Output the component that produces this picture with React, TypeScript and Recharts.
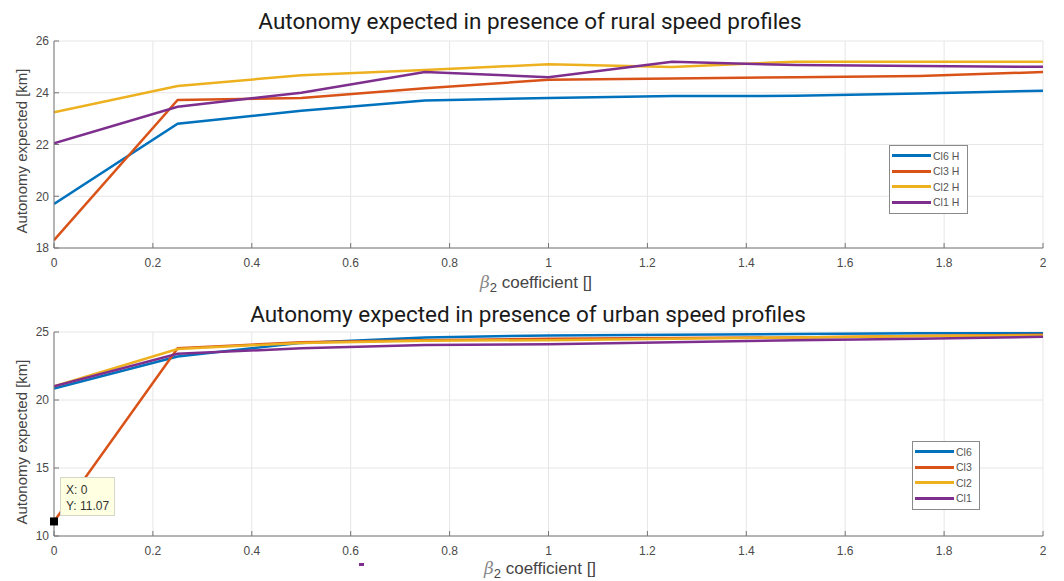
import { LineChart, Line, XAxis, YAxis, CartesianGrid, ReferenceDot } from "recharts"

// beta_2 coefficient sampled every 0.25
const betaValues = [0, 0.25, 0.5, 0.75, 1, 1.25, 1.5, 1.75, 2]

// rural speed profiles
const ruralCl6H = [19.7, 22.8, 23.3, 23.7, 23.8, 23.87, 23.88, 23.97, 24.08]
const ruralCl3H = [18.3, 23.72, 23.8, 24.17, 24.5, 24.55, 24.6, 24.65, 24.8]
const ruralCl2H = [23.25, 24.26, 24.68, 24.88, 25.1, 25.0, 25.2, 25.2, 25.2]
const ruralCl1H = [22.05, 23.46, 24.0, 24.8, 24.6, 25.2, 25.07, 25.03, 25.0]

// urban speed profiles
const urbanCl6 = [20.85, 23.2, 24.2, 24.6, 24.75, 24.8, 24.85, 24.9, 24.95]
const urbanCl3 = [11.07, 23.8, 24.25, 24.4, 24.5, 24.55, 24.6, 24.7, 24.8]
const urbanCl2 = [21.0, 23.75, 24.2, 24.35, 24.4, 24.5, 24.6, 24.7, 24.75]
const urbanCl1 = [21.0, 23.4, 23.8, 24.05, 24.1, 24.25, 24.4, 24.5, 24.65]

const xTicks = [0, 0.2, 0.4, 0.6, 0.8, 1, 1.2, 1.4, 1.6, 1.8, 2]
const ruralTicks = [18, 20, 22, 24, 26]
const urbanTicks = [10, 15, 20, 25]

const BLUE = "#0072BD"
const ORANGE = "#D95319"
const YELLOW = "#EDB120"
const PURPLE = "#7E2F8E"

const ruralSeries = [
  { key: "cl6", name: "Cl6 H", color: BLUE, values: ruralCl6H },
  { key: "cl3", name: "Cl3 H", color: ORANGE, values: ruralCl3H },
  { key: "cl2", name: "Cl2 H", color: YELLOW, values: ruralCl2H },
  { key: "cl1", name: "Cl1 H", color: PURPLE, values: ruralCl1H },
]

const urbanSeries = [
  { key: "cl6", name: "Cl6", color: BLUE, values: urbanCl6 },
  { key: "cl3", name: "Cl3", color: ORANGE, values: urbanCl3 },
  { key: "cl2", name: "Cl2", color: YELLOW, values: urbanCl2 },
  { key: "cl1", name: "Cl1", color: PURPLE, values: urbanCl1 },
]

const toRows = (series: typeof ruralSeries) =>
  betaValues.map((beta, i) => {
    const row: any = { beta }
    series.forEach((s) => (row[s.key] = s.values[i]))
    return row
  })

const AXIS = "#767676"
const TICK_FONT = { fontSize: 12, fill: "#4a4a4a", fontFamily: "Liberation Sans, Arial" }
const fmt = (v: number) => String(Number(v.toFixed(1)))

function Panel({ series, domain, ticks, margin, height, dataTip }: any) {
  return (
    <LineChart width={1064} height={height} data={toRows(series)} margin={margin}>
      <CartesianGrid stroke="#e6e6e6" horizontalValues={ticks} verticalValues={xTicks} />
      <XAxis
        dataKey="beta"
        type="number"
        domain={[0, 2]}
        ticks={xTicks}
        interval={0}
        allowDataOverflow
        height={30}
        tickSize={-5}
        tickMargin={15}
        tickFormatter={fmt}
        stroke={AXIS}
        tick={TICK_FONT}
      />
      <XAxis
        xAxisId="t"
        orientation="top"
        type="number"
        domain={[0, 2]}
        ticks={xTicks}
        allowDataOverflow
        height={0}
        tickSize={-5}
        tick={false}
        stroke={AXIS}
      />
      <YAxis
        type="number"
        domain={domain}
        ticks={ticks}
        interval={0}
        allowDataOverflow
        width={54}
        tickSize={-5}
        tickMargin={10}
        stroke={AXIS}
        tick={TICK_FONT}
      />
      <YAxis
        yAxisId="r"
        orientation="right"
        type="number"
        domain={domain}
        ticks={ticks}
        allowDataOverflow
        width={0}
        tickSize={-5}
        tick={false}
        stroke={AXIS}
      />
      {series.map((s: any) => (
        <Line
          key={s.key}
          dataKey={s.key}
          name={s.name}
          type="linear"
          stroke={s.color}
          strokeWidth={2.5}
          dot={false}
          isAnimationActive={false}
        />
      ))}
      {dataTip && (
        <ReferenceDot
          x={dataTip.x}
          y={dataTip.y}
          shape={(p: any) => <rect x={p.cx - 4} y={p.cy - 4} width={8} height={8} fill="#000" />}
        />
      )}
    </LineChart>
  )
}

function Legend({ series, left, top, width }: any) {
  return (
    <div
      style={{
        position: "absolute",
        left,
        top,
        width,
        background: "#fff",
        border: "1px solid #8a8a8a",
        padding: "2px 0 3px 2px",
      }}
    >
      {series.map((s: any) => (
        <div key={s.key} style={{ display: "flex", alignItems: "center", height: 15.5 }}>
          <div style={{ width: 39, height: 3, background: s.color }} />
          <span
            style={{
              marginLeft: 2,
              fontSize: 10.5,
              color: "#555",
              fontFamily: "Liberation Sans, Arial",
              whiteSpace: "nowrap",
            }}
          >
            {s.name}
          </span>
        </div>
      ))}
    </div>
  )
}

const titleStyle: any = {
  position: "absolute",
  transform: "translateX(-50%)",
  fontFamily: "Roboto, 'Open Sans', sans-serif",
  fontSize: 22.5,
  fontWeight: 400,
  lineHeight: "26px",
  color: "#1a1a1a",
  whiteSpace: "nowrap",
}

const xLabelStyle: any = {
  position: "absolute",
  transform: "translateX(-50%)",
  fontFamily: "Liberation Sans, Arial",
  fontSize: 17,
  lineHeight: "20px",
  color: "#454545",
  whiteSpace: "nowrap",
}

const yLabelStyle: any = {
  position: "absolute",
  transform: "translate(-50%, -50%) rotate(-90deg)",
  fontFamily: "Liberation Sans, Arial",
  fontSize: 15,
  lineHeight: "18px",
  color: "#454545",
  whiteSpace: "nowrap",
}

function XLabel({ left, top }: any) {
  return (
    <div style={{ ...xLabelStyle, left, top }}>
      <span style={{ fontFamily: "DejaVu Serif, serif", fontStyle: "italic", color: "#888" }}>β</span>
      <sub style={{ fontSize: 13 }}>2</sub> coefficient []
    </div>
  )
}

export default function App() {
  return (
    <div
      style={{
        position: "absolute",
        left: 0,
        top: 0,
        width: 1064,
        height: 581,
        background: "#fff",
        overflow: "hidden",
      }}
    >
      <div style={{ position: "absolute", left: 0, top: 0 }}>
        <Panel
          series={ruralSeries}
          domain={[18, 26]}
          ticks={ruralTicks}
          height={290}
          margin={{ top: 41, right: 21, bottom: 12, left: 0 }}
        />
      </div>
      <div style={{ position: "absolute", left: 0, top: 290 }}>
        <Panel
          series={urbanSeries}
          domain={[10, 25]}
          ticks={urbanTicks}
          height={291}
          margin={{ top: 42, right: 21, bottom: 15, left: 0 }}
          dataTip={{ x: 0, y: 11.07 }}
        />
      </div>

      <div style={{ ...titleStyle, left: 530, top: 8 }}>
        Autonomy expected in presence of rural speed profiles
      </div>
      <div style={{ ...titleStyle, left: 528, top: 301 }}>
        Autonomy expected in presence of urban speed profiles
      </div>

      <XLabel left={536} top={272} />
      <XLabel left={540} top={558} />

      <div style={{ ...yLabelStyle, left: 22, top: 151 }}>Autonomy expected [km]</div>
      <div style={{ ...yLabelStyle, left: 22, top: 442 }}>Autonomy expected [km]</div>

      <Legend series={ruralSeries} left={889} top={145} width={75} />
      <Legend series={urbanSeries} left={912} top={441} width={64} />

      <div
        style={{
          position: "absolute",
          left: 60,
          top: 477,
          width: 55,
          height: 39,
          boxSizing: "border-box",
          background: "#ffffe1",
          border: "1px solid #d6d6c8",
          fontFamily: "Liberation Sans, Arial",
          fontSize: 12,
          lineHeight: "16px",
          color: "#333",
          padding: "4px 0 0 5px",
        }}
      >
        <div>X: 0</div>
        <div>Y: 11.07</div>
      </div>
      <div style={{ position: "absolute", left: 359, top: 563, width: 5, height: 3, background: PURPLE }} />
    </div>
  )
}
